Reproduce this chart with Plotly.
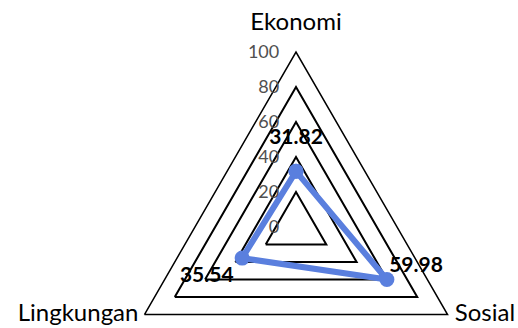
import plotly.graph_objects as go

categories = ["Ekonomi", "Sosial", "Lingkungan"]
values = [31.82, 59.98, 35.54]
radial_ticks = [0, 20, 40, 60, 80, 100]
radial_max = 100

_LINE_COLOR = "#5a7fde"
_GRID_COLOR = "#000000"
_FONT = "Lato, Carlito, Calibri, sans-serif"

W, H = 518, 410
cx, cy, R = 296, 227, 175  # centre and radius in px (from top)

fig = go.Figure()

fig.add_trace(go.Scatterpolar(
    r=values + values[:1],
    theta=categories + categories[:1],
    mode="lines+markers",
    line={"color": _LINE_COLOR, "width": 6},
    marker={"color": _LINE_COLOR, "size": 15},
    hoverinfo="skip",
    showlegend=False,
))

# data labels (invisible markers only set the text offset)
fig.add_trace(go.Scatterpolar(
    r=values,
    theta=categories,
    mode="markers+text",
    marker={"size": [34, 2, 12], "opacity": 0},
    text=[f"{v:.2f}" for v in values],
    textposition=["top center", "top right", "bottom left"],
    textfont={"family": _FONT, "size": 21, "color": "#000000", "weight": "bold"},
    hoverinfo="skip",
    showlegend=False,
    cliponaxis=False,
))

# category labels at the triangle corners
fig.add_trace(go.Scatterpolar(
    r=[radial_max] * len(categories),
    theta=categories,
    mode="markers+text",
    marker={"size": [24, 10, 8], "opacity": 0},
    text=categories,
    textposition=["top center", "middle right", "middle left"],
    textfont={"family": _FONT, "size": 24, "color": "#000000"},
    hoverinfo="skip",
    showlegend=False,
    cliponaxis=False,
))

fig.update_layout(
    width=W,
    height=H,
    margin={"l": 0, "r": 0, "t": 0, "b": 0},
    paper_bgcolor="white",
    font={"family": _FONT, "size": 14, "color": "#000000"},
    polar={
        "domain": {
            "x": [(cx - R) / W, (cx + R) / W],
            "y": [(H - cy - R) / H, (H - cy + R) / H],
        },
        "gridshape": "linear",
        "bgcolor": "white",
        "radialaxis": {
            "range": [0, radial_max],
            "tickvals": radial_ticks,
            "showline": False,
            "ticks": "outside",
            "ticklen": 10,
            "tickcolor": "rgba(0,0,0,0)",
            "angle": 90,
            "tickangle": 90,
            "side": "counterclockwise",
            "gridcolor": _GRID_COLOR,
            "gridwidth": 1.5,
            "tickfont": {"size": 18, "color": "#505050"},
        },
        "angularaxis": {
            "rotation": 90,
            "direction": "clockwise",
            "showgrid": False,
            "showline": True,
            "linecolor": _GRID_COLOR,
            "linewidth": 1.5,
            "ticks": "",
            "showticklabels": False,
        },
    },
)

fig.write_html(
    "out.html",
    config={"displayModeBar": False},
    post_script="document.body.style.margin='0';"
                "document.body.style.overflow='hidden';"
                "document.documentElement.style.overflow='hidden';",
)
